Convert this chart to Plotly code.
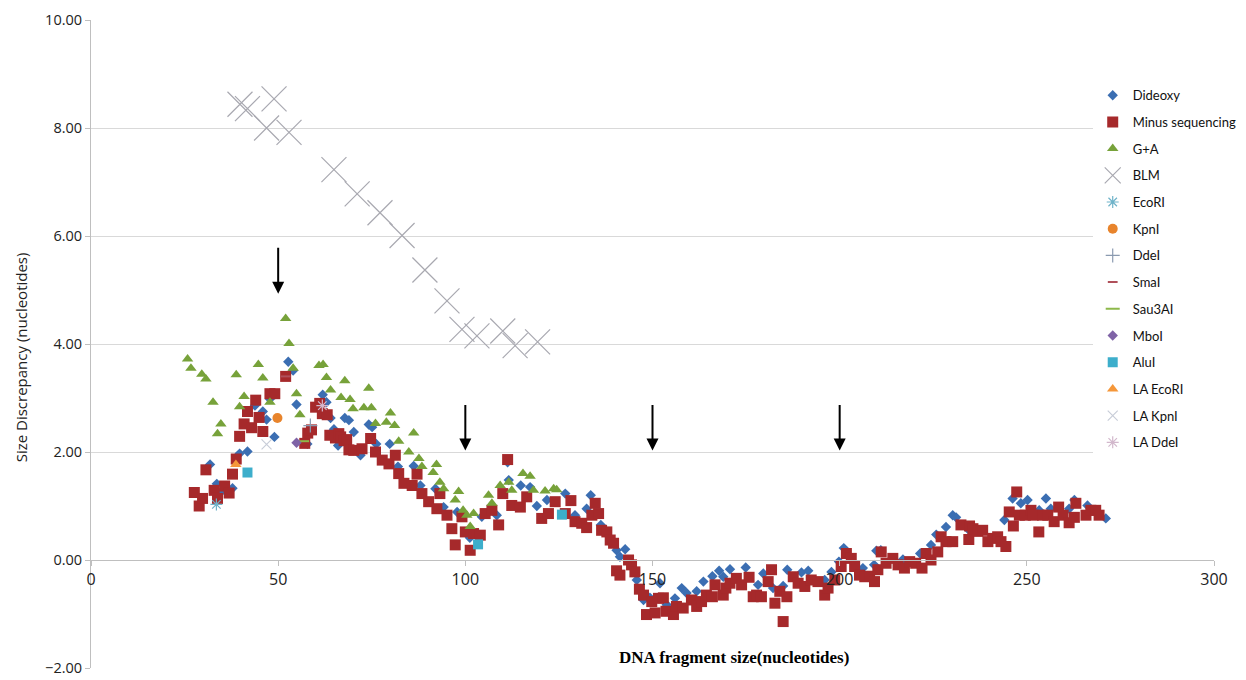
import plotly.graph_objects as go

# ---------------- data ----------------
dideoxy_x = [31.8, 33.6, 34.7, 37.8, 39.7, 41.8, 43.8, 45.9, 46.9, 47.8, 49.0, 52.7, 54.0, 54.9, 57.8,
             61.9, 62.9, 64.0, 64.9, 66.0, 67.8, 68.9, 70.2, 72.0, 74.2, 75.1, 76.2, 79.8, 82.0, 86.2,
             88.0, 92.0, 94.2, 97.8, 101.2, 104.4, 108.4, 111.3, 111.6, 114.8, 117.3, 119.1, 121.8,
             126.7, 129.3, 132.4, 133.5, 136.2, 140.4, 141.3, 142.7, 145.8, 147.6, 149.3, 152.0, 153.8,
             156.0, 157.8, 159.1, 161.8, 163.6, 166.0, 167.8, 168.9, 170.7, 174.9, 178.2, 179.6, 182.2,
             184.9, 186.0, 189.8, 191.6, 196.0, 197.8, 199.8, 201.1, 206.2, 209.2, 209.8, 211.0, 216.9,
             221.5, 224.4, 225.8, 228.4, 230.2, 231.1, 234.2, 244.0, 246.2, 248.4, 250.2, 253.3, 255.1,
             256.4, 261.3, 262.7, 266.2, 268.4, 271.1]
dideoxy_y = [1.77, 1.41, 1.26, 1.33, 1.97, 2.01, 2.86, 2.75, 2.60, 2.98, 2.28, 3.67, 3.51, 2.88, 2.15,
             3.06, 2.92, 2.63, 2.42, 2.12, 2.63, 2.59, 2.37, 1.94, 2.51, 2.46, 2.15, 2.15, 1.73, 1.74,
             1.38, 1.32, 0.98, 0.89, 0.41, 0.80, 0.83, 1.81, 1.48, 1.38, 1.35, 1.00, 1.11,
             1.23, 0.83, 0.95, 1.20, 0.65, 0.18, 0.06, 0.20, -0.37, -0.74, -0.70, -0.43, -0.83,
             -0.71, -0.52, -0.61, -0.58, -0.40, -0.30, -0.20, -0.31, -0.17, -0.14, -0.46, -0.25, -0.52,
             -0.48, -0.18, -0.23, -0.20, -0.37, -0.22, -0.03, 0.22, -0.15, -0.09, 0.17, 0.18, 0.01,
             0.12, 0.28, 0.47, 0.61, 0.83, 0.79, 0.58, 0.74, 1.14, 1.05, 1.11, 0.92, 1.14,
             0.95, 0.95, 1.11, 1.01, 0.92, 0.77]

minus_x = [27.6, 28.9, 29.8, 30.7, 32.9, 33.8, 35.7, 36.9, 37.8, 38.8, 39.7, 40.9, 41.8, 42.9, 44.0,
           44.9, 45.9, 47.8, 49.1, 52.0, 57.1, 57.9, 58.9, 60.0, 61.1, 61.8, 63.1, 63.8, 65.3, 66.2,
           66.7, 67.6, 68.3, 68.9, 70.2, 72.4, 74.7, 76.0, 77.8, 79.6, 81.3, 82.2, 83.6, 85.8, 87.1,
           88.4, 90.2, 92.4, 93.2, 95.1, 96.4, 97.3, 99.1, 100.0, 101.3, 102.2, 104.0, 105.3, 107.1,
           108.9, 110.0, 111.3, 112.4, 114.7, 116.4, 120.4, 122.2, 124.0, 126.7, 128.2, 129.3, 131.1,
           132.4, 133.8, 134.7, 135.6, 136.4, 137.8, 138.7, 139.6, 140.4, 141.3, 143.6, 144.4, 145.3,
           146.5, 147.6, 148.4, 149.8, 150.7, 151.6, 152.9, 153.6, 155.6, 156.4, 158.2, 160.4, 161.8,
           163.1, 164.4, 166.0, 166.7, 168.9, 169.6, 170.7, 172.4, 173.8, 175.8, 176.9, 177.8, 179.1,
           180.9, 181.8, 182.7, 184.0, 184.9, 185.9, 187.6, 188.9, 190.7, 192.4, 194.2, 196.0, 196.9,
           198.7, 200.4, 201.8, 203.1, 204.0, 205.3, 206.7, 208.0, 209.3, 210.2, 211.1, 212.4, 214.2,
           215.6, 217.3, 218.7, 220.3, 222.0, 223.1, 224.4, 226.2, 227.1, 228.4, 230.2, 232.4, 234.5,
           234.7, 235.6, 236.9, 238.2, 239.6, 240.9, 242.2, 243.1, 244.4, 245.3, 246.4, 247.3, 248.0,
           249.6, 251.1, 251.7, 253.2, 254.2, 255.6, 257.3, 258.5, 259.7, 261.3, 262.7, 263.1, 265.8,
           267.1, 268.4, 269.3]
minus_y = [1.25, 1.00, 1.14, 1.67, 1.29, 1.14, 1.37, 1.24, 1.59, 1.87, 2.29, 2.52, 2.75, 2.45, 2.96,
           2.64, 2.38, 3.08, 3.08, 3.40, 2.16, 2.35, 2.41, 2.83, 2.90, 2.71, 2.69, 2.31, 2.26, 2.34,
           2.28, 2.21, 2.23, 2.04, 2.03, 2.06, 2.25, 2.00, 1.85, 1.78, 1.94, 1.60, 1.42, 1.38, 1.59,
           1.23, 1.08, 0.95, 1.23, 0.83, 0.58, 0.28, 0.80, 0.52, 0.18, 0.49, 0.46, 0.86, 0.92,
           0.65, 1.23, 1.86, 1.01, 0.98, 1.17, 0.77, 0.86, 1.08, 0.86, 1.10, 0.71, 0.68,
           0.60, 0.83, 1.05, 0.86, 0.55, 0.52, 0.37, 0.31, -0.20, -0.28, 0.00, -0.09, -0.22,
           -0.54, -0.65, -1.01, -0.77, -0.98, -0.71, -0.70, -0.95, -1.01, -0.86, -0.89, -0.74, -0.86,
           -0.77, -0.65, -0.68, -0.46, -0.65, -0.52, -0.43, -0.34, -0.46, -0.32, -0.68, -0.65, -0.68,
           -0.40, -0.18, -0.80, -0.58, -1.14, -0.68, -0.31, -0.43, -0.49, -0.37, -0.40, -0.65, -0.52,
           -0.37, -0.12, 0.12, 0.03, -0.12, -0.28, -0.31, -0.30, -0.40, -0.18, 0.15, -0.06, 0.03,
           -0.09, -0.15, -0.03, -0.06, -0.15, 0.12, 0.00, 0.15, 0.43, 0.34, 0.34, 0.65, 0.38,
           0.63, 0.58, 0.53, 0.55, 0.34, 0.40, 0.43, 0.34, 0.25, 0.89, 0.63, 1.26, 0.83,
           0.83, 0.92, 0.83, 0.52, 0.83, 0.83, 0.71, 0.98, 0.83, 0.69, 0.79, 1.05, 0.83,
           0.92, 0.92, 0.83]

ga_x = [25.8, 26.7, 29.6, 30.7, 32.6, 33.8, 34.7, 38.8, 39.7, 40.9, 44.7, 45.9, 47.8, 52.0, 52.9,
        54.0, 54.9, 55.8, 60.9, 62.0, 62.9, 64.0, 66.8, 67.8, 69.2, 70.0, 72.9, 74.2, 74.9, 76.0,
        78.9, 80.0, 81.1, 82.2, 84.9, 86.2, 87.6, 88.4, 91.4, 92.3, 93.2, 94.2, 97.3, 98.2, 99.4,
        100.4, 101.3, 102.2, 106.2, 107.1, 109.3, 111.6, 112.4, 115.4, 117.3, 118.2, 121.3, 123.6, 124.4]
ga_y = [3.72, 3.55, 3.44, 3.35, 2.92, 2.34, 2.52, 3.43, 2.84, 3.03, 3.62, 3.37, 2.92, 4.47, 4.01,
        3.55, 3.08, 2.69, 3.60, 3.62, 3.38, 3.15, 3.01, 3.32, 2.97, 2.80, 2.82, 3.18, 2.82, 2.53,
        2.55, 2.72, 2.49, 2.20, 2.00, 2.35, 1.88, 1.73, 1.62, 1.77, 1.44, 1.32, 1.11, 1.27, 0.92,
        0.83, 0.62, 0.86, 1.20, 1.05, 1.38, 1.44, 1.29, 1.60, 1.55, 1.29, 1.28, 1.32, 1.30]

blm_x = [39.8, 41.8, 46.9, 48.9, 52.9, 64.9, 71.1, 77.2, 83.1, 89.2, 95.1, 99.1, 103.1, 110.0, 113.3, 119.3]
blm_y = [8.44, 8.36, 8.00, 8.54, 7.92, 7.23, 6.78, 6.43, 6.01, 5.37, 4.80, 4.27, 4.15, 4.24, 3.97, 4.04]

ecori_x, ecori_y = [33.5], [1.03]
kpni_x, kpni_y = [49.8], [2.63]
ddei_x, ddei_y = [58.6], [2.49]
smai_x, smai_y = [52.0], [3.40]
sau3ai_x, sau3ai_y = [56.4], [2.20]
mboi_x, mboi_y = [54.9], [2.17]
alui_x, alui_y = [41.8, 103.4, 125.8], [1.62, 0.29, 0.84]
la_ecori_x, la_ecori_y = [38.7], [1.77]
la_kpni_x, la_kpni_y = [46.9], [2.14]
la_ddei_x, la_ddei_y = [61.8], [2.86]

arrow_x = [50, 100, 150, 200]
arrow_head_y = [4.93, 2.03, 2.03, 2.03]
arrow_tail_y = [5.81, 2.90, 2.90, 2.90]

y_ticks = [-2, 0, 2, 4, 6, 8, 10]
x_ticks = [0, 50, 100, 150, 200, 250, 300]

# ---------------- figure ----------------
fig = go.Figure()

def add(name, xs, ys, symbol, size, color, line_w=0, line_color=None):
    marker = dict(symbol=symbol, size=size, color=color)
    if line_w:
        marker["line"] = dict(width=line_w, color=line_color or color)
    else:
        marker["line"] = dict(width=0)
    fig.add_trace(go.Scatter(x=xs, y=ys, mode="markers", name=name, legendgroup=name,
                             marker=marker, cliponaxis=False))

add("Dideoxy", dideoxy_x, dideoxy_y, "diamond", 8, "#3B6EB2")
add("Minus sequencing", minus_x, minus_y, "square", 11, "#A6292B")
add("G+A", ga_x, ga_y, "triangle-up", 10, "#77A23A")
add("BLM", blm_x, blm_y, "x-thin", 25, "#A8A8B0", 1.2, "#A8A8B0")
add("EcoRI", ecori_x, ecori_y, "asterisk", 10, "#6FB3C9", 1.2, "#6FB3C9")
add("KpnI", kpni_x, kpni_y, "circle", 10, "#E8842C")
add("DdeI", ddei_x, ddei_y, "cross-thin", 10, "#8A9AB0", 1.2, "#8A9AB0")
add("SmaI", smai_x, smai_y, "line-ew", 7, "#B0505A", 2, "#B0505A")
add("Sau3AI", sau3ai_x, sau3ai_y, "line-ew", 10, "#8DB84A", 2, "#8DB84A")
add("MboI", mboi_x, mboi_y, "diamond", 8, "#7F63A6")
add("AluI", alui_x, alui_y, "square", 10, "#3DAECB")
add("LA EcoRI", la_ecori_x, la_ecori_y, "triangle-up", 10, "#F5973A")
add("LA KpnI", la_kpni_x, la_kpni_y, "x-thin", 10, "#C8CDD8", 1.2, "#C8CDD8")
add("LA DdeI", la_ddei_x, la_ddei_y, "asterisk", 10, "#D2B8CC", 1.2, "#D2B8CC")

for ax_, hy, ty in zip(arrow_x, arrow_head_y, arrow_tail_y):
    fig.add_annotation(x=ax_, y=hy, ax=ax_, ay=ty, xref="x", yref="y", axref="x", ayref="y",
                       showarrow=True, arrowhead=2, arrowsize=1.2, arrowwidth=2, arrowcolor="#000000",
                       text="")

fig.add_annotation(text="DNA fragment size(nucleotides)", xref="paper", yref="paper",
                   x=0.573, y=0.016, xanchor="center", yanchor="middle", showarrow=False,
                   font=dict(family="Liberation Serif", size=17, color="#000000", weight="bold"))
fig.add_annotation(text="Size Discrepancy (nucleotides)", xref="paper", yref="paper",
                   x=-0.062, y=0.48, xanchor="center", yanchor="middle", showarrow=False,
                   textangle=-90, font=dict(family="Open Sans", size=15, color="#222222"))

fig.update_layout(
    width=1246, height=680,
    margin=dict(l=83, r=38, t=12, b=20),
    paper_bgcolor="white", plot_bgcolor="white",
    font=dict(family="Open Sans", color="#222222"),
    xaxis=dict(range=[0, 300], tickvals=x_ticks, showgrid=False, zeroline=False, automargin=False,
               showline=True, linecolor="#BFBFBF", linewidth=1, ticks="outside", ticklen=5,
               tickcolor="#BFBFBF", anchor="free", position=2 / 12, ticklabeloverflow="allow",
               tickfont=dict(family="Open Sans", size=16, color="#222222")),
    yaxis=dict(range=[-2, 10], tickvals=y_ticks, tickformat=".2f", showgrid=True, automargin=False,
               gridcolor="#D9D9D9", zeroline=False, showline=True, linecolor="#BFBFBF",
               ticks="outside", ticklen=5, tickcolor="#BFBFBF", ticklabeloverflow="allow",
               tickfont=dict(family="Open Sans", size=14.5, color="#222222")),
    legend=dict(x=0.892, y=0.907, xanchor="left", yanchor="top", bgcolor="white",
                font=dict(family="Lato", size=13, color="#111111"), tracegroupgap=6.8,
                itemwidth=30),
    showlegend=True,
)

fig.write_html("out.html")
